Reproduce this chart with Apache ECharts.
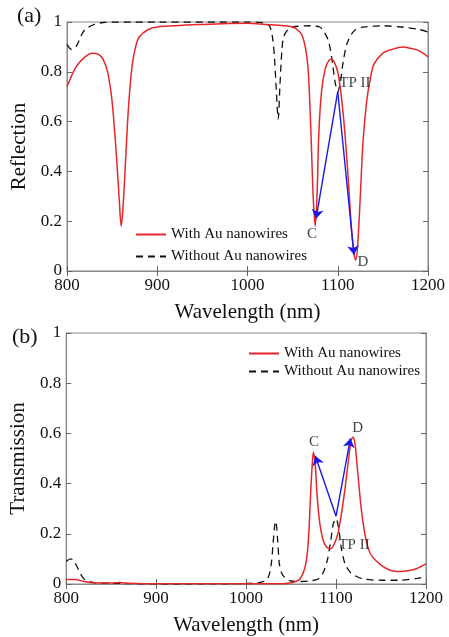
<!DOCTYPE html>
<html><head><meta charset="utf-8">
<script src="https://cdn.jsdelivr.net/npm/echarts@6/dist/echarts.min.js"></script>
<style>html,body{margin:0;padding:0;background:#fff}#c{width:449px;height:637px}</style>
</head><body><div id="c"></div>
<script>
// Panel (a): reflection
var reflWithX = [800,810,820,828,835,840,845,850,855,858,860,862,865,868,872,876,880,890,900,950,1000,1020,1040,1050,1055,1060,1064,1067,1069,1071,1073,1075,1077,1079,1082,1086,1090,1093,1096,1100,1104,1108,1112,1115,1118,1120,1122,1125,1128,1132,1136,1140,1150,1160,1172,1180,1190,1200];
var reflWithY = [0.74,0.82,0.86,0.875,0.87,0.85,0.80,0.68,0.45,0.28,0.18,0.25,0.45,0.65,0.82,0.90,0.94,0.97,0.98,0.99,0.995,0.99,0.985,0.98,0.97,0.95,0.90,0.82,0.68,0.48,0.28,0.18,0.30,0.55,0.72,0.81,0.845,0.85,0.84,0.80,0.70,0.55,0.35,0.18,0.07,0.045,0.10,0.30,0.52,0.68,0.77,0.83,0.875,0.89,0.90,0.895,0.885,0.86];
var reflWithoutX = [800,805,810,815,820,830,840,850,900,1000,1020,1025,1028,1030,1032,1034,1036,1038,1040,1045,1050,1070,1080,1085,1090,1094,1097,1100,1103,1106,1110,1115,1120,1130,1150,1170,1190,1200];
var reflWithoutY = [0.91,0.89,0.90,0.94,0.97,0.99,0.998,1.0,1.0,1.0,0.995,0.98,0.93,0.85,0.72,0.61,0.75,0.88,0.94,0.97,0.98,0.985,0.98,0.96,0.92,0.84,0.76,0.72,0.76,0.84,0.91,0.95,0.97,0.98,0.985,0.98,0.97,0.96];
// Panel (b): transmission
var transWithX = [800,810,820,830,850,860,870,900,1000,1040,1050,1055,1060,1065,1068,1070,1072,1074,1075,1077,1079,1082,1086,1090,1094,1098,1102,1106,1110,1114,1117,1119,1121,1124,1128,1132,1136,1140,1150,1160,1170,1180,1190,1200];
var transWithY = [0.018,0.018,0.01,0.005,0.004,0.006,0.003,0.001,0.001,0.001,0.005,0.01,0.02,0.06,0.12,0.22,0.38,0.50,0.525,0.47,0.35,0.24,0.17,0.145,0.14,0.16,0.20,0.28,0.38,0.50,0.575,0.585,0.56,0.45,0.30,0.20,0.14,0.11,0.075,0.055,0.05,0.053,0.062,0.08];
var transWithoutX = [800,805,808,812,816,820,830,850,900,1000,1020,1025,1028,1030,1032,1033,1035,1037,1040,1045,1050,1060,1070,1080,1085,1090,1094,1097,1100,1103,1106,1110,1115,1120,1130,1150,1170,1190,1200];
var transWithoutY = [0.09,0.10,0.095,0.07,0.04,0.02,0.006,0.003,0,0.002,0.01,0.03,0.08,0.16,0.24,0.25,0.18,0.08,0.04,0.02,0.012,0.01,0.012,0.02,0.04,0.09,0.17,0.24,0.26,0.22,0.14,0.08,0.05,0.035,0.02,0.015,0.015,0.022,0.03];
// Arrows: [fromX, fromY, toX, toY]
var arrowsA = [[1100,0.72,1076,0.21],[1100,0.72,1118,0.065]];
var arrowsB = [[1100,0.27,1077,0.51],[1100,0.27,1116,0.58]];
// Point labels
var labelsA = [['C',1071.5,0.148],['D',1128,0.035],['TP II',1119,0.755]];
var labelsB = [['C',1075.5,0.567],['D',1124,0.622],['TP II',1120,0.157]];
var xTicks = [800,900,1000,1100,1200];
var yTicks = [0,0.2,0.4,0.6,0.8,1];

function zip(a,b){return a.map(function(v,i){return [v,b[i]];});}
var FONT = 'Liberation Serif';
var RED = '#e8262a';
var DASH = [7,5];
var grids = [
  {left:67,right:21,top:22,height:249,show:true,borderColor:'#888',borderWidth:1,backgroundColor:'transparent'},
  {left:66,right:23,top:333,height:254,show:true,borderColor:'#888',borderWidth:1,backgroundColor:'transparent'}
];
function xAx(gi,name){
  return {type:'value',gridIndex:gi,min:800,max:1200,interval:100,name:name,nameLocation:'middle',nameGap:31,
    nameTextStyle:{fontFamily:FONT,fontSize:21,color:'#111'},
    axisLine:{show:true,lineStyle:{color:'#888'}},axisTick:{inside:true,length:5,lineStyle:{color:'#666'}},
    axisLabel:{fontFamily:FONT,fontSize:17,color:'#111',margin:6,formatter:function(v){return String(v);}},splitLine:{show:false}};
}
function xAxTop(gi){
  return {type:'value',gridIndex:gi,position:'top',min:800,max:1200,interval:100,
    axisLine:{show:true,lineStyle:{color:'#888'}},axisTick:{inside:true,length:5,lineStyle:{color:'#666'}},
    axisLabel:{show:false},splitLine:{show:false}};
}
function yAx(gi,name,gap){
  return {type:'value',gridIndex:gi,min:0,max:1,interval:0.2,name:name,nameLocation:'middle',nameGap:gap,
    nameTextStyle:{fontFamily:FONT,fontSize:21,color:'#111'},
    axisLine:{show:true,lineStyle:{color:'#888'}},axisTick:{inside:true,length:5,lineStyle:{color:'#666'}},
    axisLabel:{fontFamily:FONT,fontSize:17,color:'#111',margin:5,formatter:function(v){return String(+v.toFixed(1));}},splitLine:{show:false}};
}
function yAxRight(gi){
  return {type:'value',gridIndex:gi,position:'right',min:0,max:1,interval:0.2,
    axisLine:{show:true,lineStyle:{color:'#888'}},axisTick:{inside:true,length:5,lineStyle:{color:'#666'}},
    axisLabel:{show:false},splitLine:{show:false}};
}
function arrowSeries(list,xi,yi){
  return {type:'lines',coordinateSystem:'cartesian2d',xAxisIndex:xi,yAxisIndex:yi,silent:true,
    symbol:['none','arrow'],symbolSize:9,z:5,
    lineStyle:{color:'#1a1ae6',width:1.4,opacity:1},
    data:list.map(function(a){return {coords:[[a[0],a[1]],[a[2],a[3]]]};})};
}
function labelSeries(list,xi,yi){
  return {type:'scatter',xAxisIndex:xi,yAxisIndex:yi,symbolSize:0,silent:true,z:6,
    label:{show:true,position:'inside',formatter:function(p){return p.data[2];},fontFamily:FONT,fontSize:15,color:'#111'},
    data:list.map(function(l){return [l[1],l[2],l[0]];})};
}
var legendBase = {orient:'vertical',itemWidth:30,itemHeight:10,
  itemStyle:{opacity:0,borderWidth:0},
  textStyle:{fontFamily:FONT,fontSize:15,color:'#111'},data:['With Au nanowires','Without Au nanowires']};
var option = {
  animation:false,
  backgroundColor:'#fff',
  grid:grids,
  xAxis:[xAx(0,'Wavelength (nm)'),xAx(1,'Wavelength (nm)'),xAxTop(0),xAxTop(1)],
  yAxis:[yAx(0,'Reflection',34),yAx(1,'Transmission',37),yAxRight(0),yAxRight(1)],
  legend:[
    Object.assign({left:130,top:222,itemGap:7},legendBase),
    Object.assign({left:243,top:341,itemGap:3},legendBase)
  ],
  graphic:[
    {type:'text',left:17,top:5,style:{text:'(a)',fontFamily:FONT,fontSize:22,fill:'#111'}},
    {type:'text',left:12,top:326,style:{text:'(b)',fontFamily:FONT,fontSize:22,fill:'#111'}}
  ],
  series:[
    {name:'Without Au nanowires',type:'line',xAxisIndex:0,yAxisIndex:0,showSymbol:false,symbol:'none',smooth:0.3,
     lineStyle:{color:'#111',width:1.3,type:DASH},itemStyle:{color:'#111'},data:zip(reflWithoutX,reflWithoutY)},
    {name:'With Au nanowires',type:'line',xAxisIndex:0,yAxisIndex:0,showSymbol:false,symbol:'none',smooth:0.3,
     lineStyle:{color:RED,width:1.5},itemStyle:{color:RED},data:zip(reflWithX,reflWithY)},
    {name:'Without Au nanowires',type:'line',xAxisIndex:1,yAxisIndex:1,showSymbol:false,symbol:'none',smooth:0.3,
     lineStyle:{color:'#111',width:1.3,type:DASH},itemStyle:{color:'#111'},data:zip(transWithoutX,transWithoutY)},
    {name:'With Au nanowires',type:'line',xAxisIndex:1,yAxisIndex:1,showSymbol:false,symbol:'none',smooth:0.3,
     lineStyle:{color:RED,width:1.5},itemStyle:{color:RED},data:zip(transWithX,transWithY)},
    arrowSeries(arrowsA,0,0),arrowSeries(arrowsB,1,1),
    labelSeries(labelsA,0,0),labelSeries(labelsB,1,1)
  ]
};
var chart = echarts.init(document.getElementById('c'),null,{renderer:'canvas'});
chart.setOption(option);
</script></body></html>
